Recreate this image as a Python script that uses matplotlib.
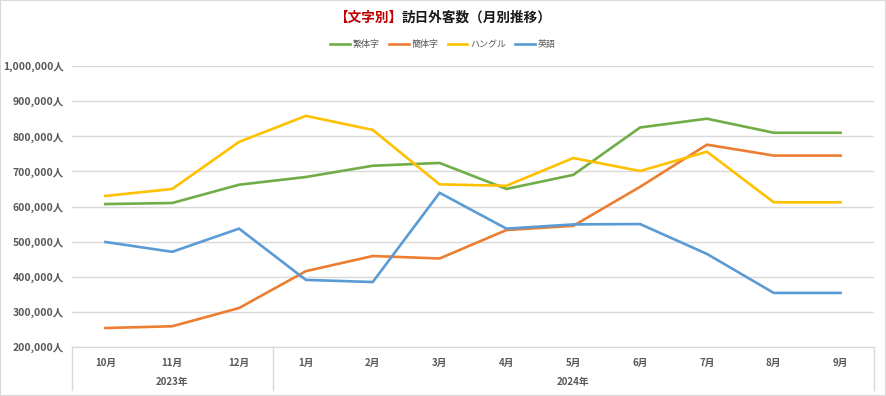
import numpy as np
import matplotlib.pyplot as plt
import matplotlib.transforms as mtransforms
from matplotlib.ticker import FuncFormatter

plt.rcParams['font.family'] = ['Noto Sans CJK JP', 'DejaVu Sans']

months = ['10月', '11月', '12月', '1月', '2月', '3月', '4月', '5月', '6月', '7月', '8月', '9月']
years = ['2023年', '2024年']
year_spans = [(0, 2), (3, 11)]

series_names = ['繁体字', '簡体字', 'ハングル', '英語']
traditional = [607000, 610000, 662000, 684000, 716000, 724000, 650000, 690000, 825000, 850000, 810000, 810000]
simplified = [254000, 259000, 311000, 416000, 459000, 452000, 533000, 545000, 656000, 776000, 745000, 745000]
hangul = [630000, 650000, 784000, 858000, 818000, 663000, 659000, 738000, 701000, 756000, 612000, 612000]
english = [499000, 471000, 537000, 391000, 385000, 639000, 537000, 549000, 550000, 465000, 354000, 354000]
colors = ['#70AD47', '#ED7D31', '#FFC000', '#5B9BD5']

grid_c = '#D9D9D9'
tick_c = '#595959'

fig = plt.figure(figsize=(8.86, 3.96), dpi=100)
ax = fig.add_axes([72 / 886, 1 - 347 / 396, (874 - 72) / 886, (347 - 66) / 396])

x = np.arange(len(months))
for name, vals, c in zip(series_names, [traditional, simplified, hangul, english], colors):
    ax.plot(x, vals, color=c, lw=1.9, label=name, solid_joinstyle='miter')

ax.set_xlim(-0.5, len(months) - 0.5)
ax.set_ylim(200000, 1000000)
ax.set_yticks(np.arange(200000, 1000001, 100000))
ax.yaxis.set_major_formatter(FuncFormatter(lambda v, p: f'{int(v):,}人'))
ax.grid(axis='y', color=grid_c, lw=1)
ax.set_axisbelow(True)
for s in ['top', 'right', 'left']:
    ax.spines[s].set_visible(False)
ax.spines['bottom'].set_color(grid_c)
ax.tick_params(axis='y', length=0, pad=6, labelsize=7.5, labelcolor=tick_c)
for lab in ax.get_yticklabels():
    lab.set_fontweight('bold')

ax.set_xticks(x)
ax.set_xticklabels(months, fontsize=7, color=tick_c, fontweight='bold')
ax.tick_params(axis='x', length=0, pad=8)

# multi-level category axis
trans = mtransforms.blended_transform_factory(ax.transData, ax.transAxes)
depth = -(390 - 347) / 281
for b in [-0.5, 2.5, len(months) - 0.5]:
    ax.plot([b, b], [0, depth], transform=trans, color=grid_c, lw=1, clip_on=False)
for yr, (a, b) in zip(years, year_spans):
    ax.text((a + b) / 2, -(382 - 347) / 281, yr, transform=trans, ha='center', va='center',
            fontsize=7, color=tick_c, fontweight='bold')

leg = fig.legend(loc='center', bbox_to_anchor=(443 / 886, 1 - 45 / 396), ncol=4, frameon=False,
                 fontsize=6.5, handlelength=2.2, columnspacing=1.0, handletextpad=0.3)
for t in leg.get_texts():
    t.set_color(tick_c)

split_x = 0.5 - 41 / 886
fig.text(split_x, 1 - 18 / 396, '【文字別】', color='#C00000', fontsize=9.8, fontweight='bold',
         ha='right', va='center')
fig.text(split_x, 1 - 18 / 396, '訪日外客数（月別推移）', color='#1A1A1A', fontsize=9.8,
         fontweight='bold', ha='left', va='center')

fig.patches.append(plt.Rectangle((0, 0), 1, 1, transform=fig.transFigure, fill=False,
                                 edgecolor=grid_c, lw=1.5))

fig.savefig('out.png', dpi=100)
